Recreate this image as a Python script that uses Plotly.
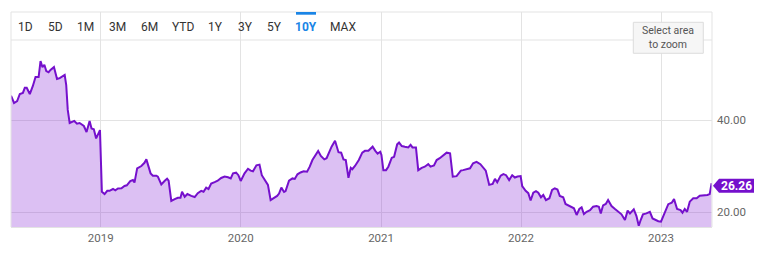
import plotly.graph_objects as go

dates = [
    "2018-05-12", "2018-05-20", "2018-05-28", "2018-06-04", "2018-06-12", "2018-06-17", "2018-06-22", "2018-06-30",
    "2018-07-08", "2018-07-15", "2018-07-23", "2018-07-28", "2018-08-02", "2018-08-07", "2018-08-12", "2018-08-18",
    "2018-08-23", "2018-09-01", "2018-09-09", "2018-09-16", "2018-09-29", "2018-10-03", "2018-10-07", "2018-10-12",
    "2018-10-24", "2018-10-31", "2018-11-07", "2018-11-18", "2018-11-25", "2018-12-03", "2018-12-08", "2018-12-14",
    "2018-12-20", "2018-12-25", "2018-12-30",
    "2019-01-04", "2019-01-11", "2019-01-18", "2019-01-24", "2019-02-02", "2019-02-08", "2019-02-15", "2019-02-24",
    "2019-03-04", "2019-03-10", "2019-03-19", "2019-03-26", "2019-03-30", "2019-04-06", "2019-04-17", "2019-04-25",
    "2019-04-30", "2019-05-06", "2019-05-11", "2019-05-17", "2019-05-26", "2019-05-30", "2019-06-08", "2019-06-17",
    "2019-06-23", "2019-06-27", "2019-07-04", "2019-07-13", "2019-07-21", "2019-07-28", "2019-08-01", "2019-08-08",
    "2019-08-15", "2019-08-25", "2019-09-03", "2019-09-11", "2019-09-20", "2019-09-26", "2019-10-03", "2019-10-09",
    "2019-10-16", "2019-10-25", "2019-11-02", "2019-11-11", "2019-11-20", "2019-11-29", "2019-12-06", "2019-12-12",
    "2019-12-20", "2019-12-26",
    "2020-01-01", "2020-01-11", "2020-01-20", "2020-01-27", "2020-02-02", "2020-02-11", "2020-02-19", "2020-02-25",
    "2020-03-05", "2020-03-12", "2020-03-19", "2020-03-28", "2020-04-05", "2020-04-10", "2020-04-16", "2020-04-23",
    "2020-04-27", "2020-05-06", "2020-05-15", "2020-05-21", "2020-05-28", "2020-06-05", "2020-06-13", "2020-06-22",
    "2020-06-29", "2020-07-06", "2020-07-12", "2020-07-21", "2020-07-28", "2020-08-06", "2020-08-12", "2020-08-19",
    "2020-08-25", "2020-09-03", "2020-09-12", "2020-09-19", "2020-09-25", "2020-10-01", "2020-10-08", "2020-10-14",
    "2020-10-18", "2020-10-25", "2020-11-04", "2020-11-13", "2020-11-20", "2020-11-29", "2020-12-10", "2020-12-17",
    "2020-12-23", "2020-12-30",
    "2021-01-02", "2021-01-07", "2021-01-14", "2021-01-20", "2021-01-29", "2021-02-04", "2021-02-12", "2021-02-17",
    "2021-02-24", "2021-03-04", "2021-03-13", "2021-03-19", "2021-03-24", "2021-04-02", "2021-04-08", "2021-04-17",
    "2021-04-25", "2021-05-04", "2021-05-10", "2021-05-19", "2021-05-26", "2021-06-03", "2021-06-12", "2021-06-21",
    "2021-06-30", "2021-07-07", "2021-07-17", "2021-07-28", "2021-08-03", "2021-08-12", "2021-08-21", "2021-08-29",
    "2021-09-07", "2021-09-17", "2021-09-24", "2021-10-01", "2021-10-10", "2021-10-19", "2021-10-25", "2021-10-31",
    "2021-11-09", "2021-11-16", "2021-11-23", "2021-12-01", "2021-12-09", "2021-12-16", "2021-12-23", "2021-12-27",
    "2021-12-31",
    "2022-01-04", "2022-01-13", "2022-01-20", "2022-01-26", "2022-02-02", "2022-02-09", "2022-02-15", "2022-02-22",
    "2022-02-28", "2022-03-07", "2022-03-16", "2022-03-23", "2022-03-30", "2022-04-06", "2022-04-12", "2022-04-21",
    "2022-04-27", "2022-05-04", "2022-05-11", "2022-05-19", "2022-05-26", "2022-06-02", "2022-06-08", "2022-06-14",
    "2022-06-21", "2022-06-30", "2022-07-08", "2022-07-17", "2022-07-23", "2022-07-28", "2022-08-03", "2022-08-10",
    "2022-08-16", "2022-08-25", "2022-09-03", "2022-09-13", "2022-09-20", "2022-09-29", "2022-10-06", "2022-10-12",
    "2022-10-22", "2022-10-29", "2022-11-04", "2022-11-09", "2022-11-15", "2022-11-24", "2022-12-03", "2022-12-10",
    "2022-12-18", "2022-12-25",
    "2023-01-01", "2023-01-09", "2023-01-20", "2023-01-29", "2023-02-04", "2023-02-12", "2023-02-21", "2023-02-26",
    "2023-03-04", "2023-03-10", "2023-03-17", "2023-03-26", "2023-04-04", "2023-04-12", "2023-04-21", "2023-05-02",
    "2023-05-08", "2023-05-13",
]

prices = [
    45.3, 43.7, 44.1, 45.65, 45.9, 47.0, 47.0, 45.65,
    47.4, 49.35, 49.35, 52.8, 51.5, 52.0, 50.65, 50.4,
    50.9, 51.5, 48.9, 49.1, 49.8, 47.6, 42.2, 39.35,
    39.8, 39.2, 39.35, 38.7, 37.4, 39.8, 38.15, 38.0,
    36.0, 37.0, 37.8,
    24.4, 23.9, 24.6, 24.6, 25.0, 24.7, 25.1, 25.15,
    25.65, 25.8, 26.7, 26.95, 26.4, 29.5, 30.0, 30.7,
    31.45, 29.85, 28.4, 27.9, 27.9, 27.7, 26.0, 26.8,
    27.25, 26.8, 22.4, 22.8, 23.1, 23.1, 24.4, 23.3,
    23.9, 23.5, 23.25, 24.1, 24.6, 24.4, 25.3, 25.0,
    26.2, 26.5, 26.8, 27.4, 27.7, 27.55, 27.3, 28.4,
    28.55, 28.0,
    26.75, 28.4, 29.4, 29.0, 28.85, 30.15, 30.3, 28.0,
    26.95, 25.9, 22.6, 23.0, 23.5, 24.0, 25.3, 24.35,
    24.55, 26.8, 27.3, 27.2, 28.2, 28.6, 28.85, 28.75,
    29.85, 31.3, 32.2, 33.25, 32.2, 31.45, 31.7, 33.1,
    34.2, 35.5, 33.0, 32.9, 31.45, 31.3, 27.45, 29.6,
    29.3, 30.0, 31.3, 32.9, 33.3, 33.3, 34.2, 33.3,
    32.7, 33.1,
    32.4, 29.1, 29.1, 29.85, 31.8, 32.0, 34.7, 35.1,
    34.35, 34.2, 34.05, 34.6, 34.05, 34.05, 29.1, 29.6,
    29.85, 30.4, 29.85, 30.1, 31.3, 31.7, 32.4, 32.9,
    32.75, 27.7, 27.8, 29.0, 29.1, 29.3, 29.5, 30.6,
    30.9, 30.4, 29.7, 29.0, 25.9, 26.1, 27.2, 26.45,
    27.9, 28.25, 28.0, 26.95, 28.0, 27.5, 27.7, 27.8,
    27.8,
    25.65, 24.6, 24.1, 22.5, 24.2, 24.55, 24.2, 23.2,
    23.7, 22.6, 23.0, 24.8, 25.15, 24.9, 23.5, 23.2,
    21.75, 21.4, 21.15, 20.8, 19.35, 20.65, 21.0, 19.55,
    20.05, 20.4, 21.15, 21.3, 21.15, 19.7, 21.45, 21.75,
    22.6, 21.3, 20.65, 20.05, 19.5, 18.25, 20.3, 19.7,
    20.6, 19.1, 17.0, 18.25, 19.5, 19.7, 20.05, 18.6,
    18.25, 18.0,
    17.9, 19.7, 21.7, 22.0, 22.8, 20.65, 20.4, 19.85,
    20.65, 20.05, 22.25, 23.0, 23.0, 23.55, 23.55, 23.7,
    23.9, 26.26,
]

year_ticks = ["2019-01-01", "2020-01-01", "2021-01-01", "2022-01-01", "2023-01-01"]
year_labels = ["2019", "2020", "2021", "2022", "2023"]
y_ticks = [20, 40]
y_labels = ["20.00", "40.00"]
range_buttons = ["1D", "5D", "1M", "3M", "6M", "YTD", "1Y", "3Y", "5Y", "10Y", "MAX"]
last_value = 26.26

LINE = "#7510cc"
FILL = "rgba(140, 45, 215, 0.30)"
GRID = "#e3e3e3"

W, H = 767, 255
ML, MR, MT, MB = 11, 55, 12, 28
PW, PH = W - ML - MR, H - MT - MB

fig = go.Figure()
fig.add_trace(go.Scatter(
    x=dates, y=prices, mode="lines",
    line=dict(color=LINE, width=2),
    fill="tozeroy", fillcolor=FILL,
    hoverinfo="skip", showlegend=False,
))

fig.update_layout(
    width=W, height=H,
    margin=dict(l=ML, r=MR, t=MT, b=MB, pad=0, autoexpand=False),
    paper_bgcolor="white", plot_bgcolor="white",
    font=dict(family="Roboto, sans-serif", size=11, color="#666666"),
    xaxis=dict(
        type="date", range=["2018-05-12", "2023-05-14"],
        tickvals=year_ticks, ticktext=year_labels,
        showgrid=True, gridcolor=GRID, gridwidth=1,
        showline=True, linecolor=GRID, linewidth=1,
        zeroline=False, ticks="", fixedrange=True, automargin=False,
        tickfont=dict(size=11.5, color="#666666"),
    ),
    yaxis=dict(
        range=[16.74, 63.48], side="right",
        tickvals=y_ticks, ticktext=y_labels,
        showgrid=True, gridcolor=GRID, gridwidth=1,
        zeroline=False, showline=False, ticks="",
        ticklabelstandoff=4, automargin=False,
        tickfont=dict(size=11.5, color="#666666"),
        fixedrange=True,
    ),
)

def py(pix):
    # pixel y (from top of page) -> paper fraction
    return (H - MB - pix) / PH

def px(pix):
    return (pix - ML) / PW

# frame lines
fig.add_shape(type="line", xref="paper", yref="paper", x0=0, x1=0, y0=0, y1=1,
              line=dict(color=GRID, width=1))
fig.add_shape(type="line", xref="paper", yref="paper", x0=1, x1=1, y0=0, y1=1,
              line=dict(color=GRID, width=1))
fig.add_shape(type="line", xref="paper", yref="paper", x0=0, x1=1, y0=1, y1=1,
              line=dict(color=GRID, width=1))
fig.add_shape(type="line", xref="paper", yref="paper", x0=0, x1=1, y0=py(40), y1=py(40),
              line=dict(color=GRID, width=1))

# range selector buttons
btn_x = [25.7, 55, 85.7, 117.3, 149, 183, 215.7, 245, 274, 305.7, 343.3]
for label, bx in zip(range_buttons, btn_x):
    active = label == "10Y"
    fig.add_annotation(
        x=px(bx), y=py(27.5), xref="paper", yref="paper",
        text=f"<b>{label}</b>" if active else label, showarrow=False,
        xanchor="center", yanchor="middle",
        font=dict(family="Roboto, sans-serif", size=12,
                  color="#1a85e6" if active else "#333333"),
    )
fig.add_shape(type="rect", xref="paper", yref="paper",
              x0=px(296), x1=px(316), y0=py(14.7), y1=py(12),
              fillcolor="#1a85e6", line=dict(width=0))

# "Select area to zoom" hint box
fig.add_shape(type="rect", xref="paper", yref="paper",
              x0=px(633.3), x1=px(703.3), y0=py(53.3), y1=py(22.3),
              fillcolor="#f6f6f6", line=dict(color="#dddddd", width=1))
fig.add_annotation(
    x=px(668.3), y=py(37.8), xref="paper", yref="paper",
    text="Select area<br>to zoom", showarrow=False,
    xanchor="center", yanchor="middle", align="center",
    font=dict(family="Roboto, sans-serif", size=10.5, color="#555555"),
)

# last value flag
fig.add_shape(type="path", xref="paper", yref="y",
              xsizemode="pixel", ysizemode="pixel", xanchor=1, yanchor=last_value,
              path="M 1 -2.5 L 7 4.5 L 42 4.5 L 42 -9.5 L 7 -9.5 Z",
              fillcolor=LINE, line=dict(width=0))
fig.add_annotation(
    x=1, y=last_value, xref="paper", yref="y",
    text=f"<b>{last_value:.2f}</b>", showarrow=False,
    xanchor="left", yanchor="middle", xshift=7, yshift=-2.5,
    font=dict(family="Roboto, sans-serif", size=12, color="white"),
)

fig.write_html("out.html")
